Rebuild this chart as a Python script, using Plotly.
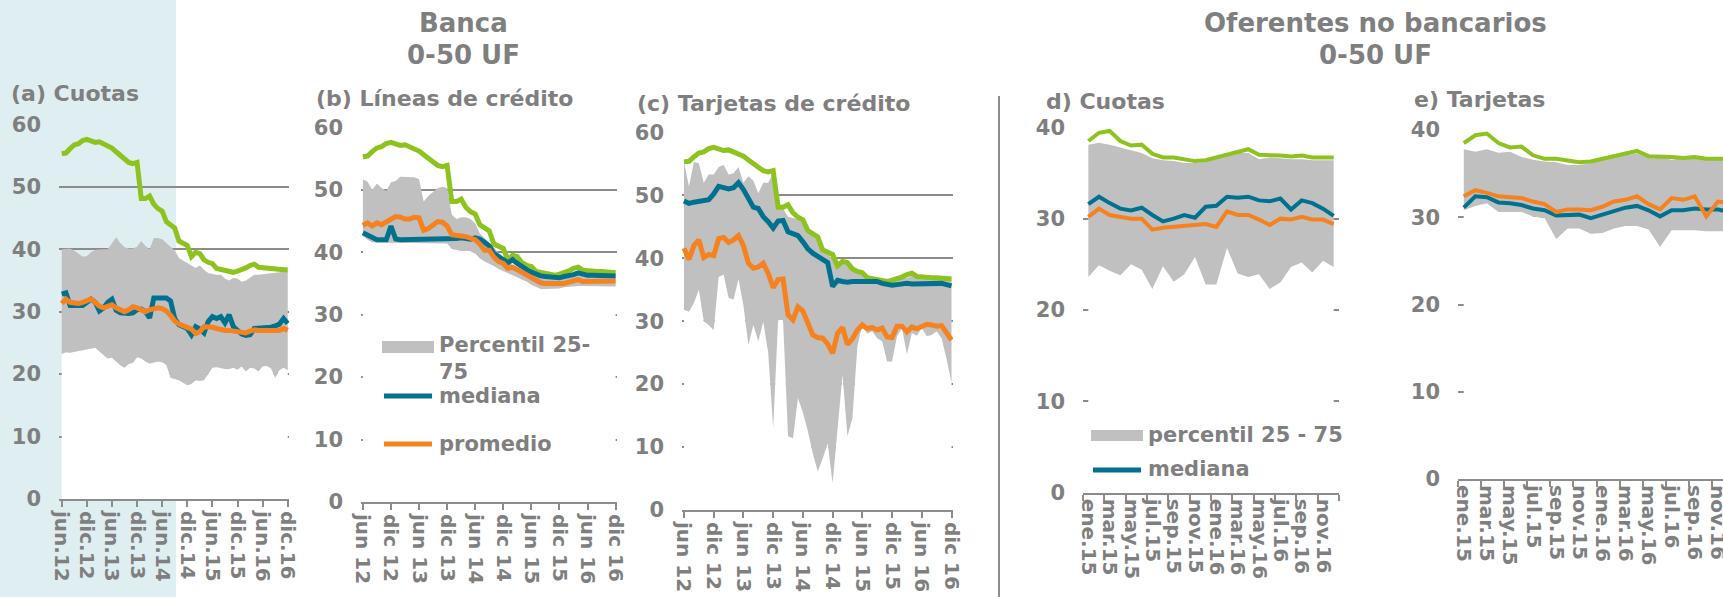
import plotly.graph_objects as go

W, H = 1723, 597
TXT = "#7f7f7f"
GRID = "#8c8c8c"
GREEN = "#8DC21F"
TEAL = "#00728F"
ORANGE = "#F5821F"
BAND = "#C0C0C0"
BG_A = "#DFEEF0"
FONT = "DejaVu Sans"

# ---------------- data: Banca (jun.12 - dic.16, monthly) ----------------
ticks_a = ["jun.12", "dic.12", "jun.13", "dic.13", "jun.14", "dic.14", "jun.15", "dic.15", "jun.16", "dic.16"]
ticks_bc = ["jun 12", "dic 12", "jun 13", "dic 13", "jun 14", "dic 14", "jun 15", "dic 15", "jun 16", "dic 16"]

tasa_max_banca = [55.3, 55.4, 56.1, 56.7, 56.9, 57.4, 57.6, 57.3, 57.1, 57.2, 56.9, 56.5, 56.2, 55.6, 55.0,
                  54.4, 53.9, 53.7, 53.9, 48.1, 48.1, 48.5, 47.2, 46.5, 46.1, 44.4, 43.8, 43.4, 41.3, 41.0,
                  40.6, 38.8, 39.5, 39.3, 38.3, 37.9, 37.7, 36.9, 36.7, 36.7, 36.5, 36.3, 36.5, 36.7, 37.0,
                  37.4, 37.6, 37.1, 37.0, 37.0, 36.9, 36.9, 36.8, 36.7, 36.7]

# (a) Cuotas
a_p25 = [23.2, 23.5, 23.4, 23.6, 23.7, 23.8, 23.9, 24.1, 24.2, 23.6, 23.0, 22.5, 22.6, 22.0, 21.4,
         21.0, 21.6, 21.8, 22.7, 22.5, 22.0, 21.7, 21.8, 22.0, 21.9, 21.5, 19.4, 19.2, 19.0, 18.6,
         18.2, 18.4, 19.0, 18.9, 19.0, 20.0, 21.0, 21.1, 20.9, 20.8, 20.8, 21.0, 20.7, 21.2, 20.4,
         21.0, 20.9, 20.4, 21.2, 21.3, 20.9, 19.4, 20.6, 21.0, 20.6]
a_p75 = [40.0, 40.0, 40.1, 39.8, 39.3, 38.8, 38.9, 39.5, 39.9, 40.0, 40.0, 40.0, 41.0, 41.9, 41.0,
         40.3, 40.1, 40.1, 40.4, 41.3, 40.5, 40.0, 41.8, 41.8, 41.6, 41.0, 40.4, 39.8, 38.6, 38.2,
         37.8, 37.5, 37.0, 37.4, 36.7, 36.2, 36.0, 35.9, 35.9, 35.3, 35.0, 35.4, 35.3, 34.8, 35.0,
         35.4, 35.9, 35.9, 36.0, 36.0, 36.1, 36.2, 36.3, 36.4, 36.4]
a_mediana = [32.8, 33.0, 31.0, 30.9, 31.0, 31.0, 31.6, 32.0, 31.5, 30.1, 30.6, 31.5, 32.0, 30.2, 29.8,
             29.7, 29.7, 29.8, 30.3, 30.4, 30.0, 29.0, 32.2, 32.2, 32.2, 32.2, 31.7, 28.9, 27.9, 27.5,
             27.3, 26.3, 27.6, 27.2, 26.6, 28.4, 29.2, 28.9, 29.2, 28.2, 29.5, 27.6, 26.9, 26.4, 26.2,
             26.3, 27.3, 27.3, 27.3, 27.4, 27.5, 27.7, 28.0, 28.9, 28.1]
a_promedio = [31.3, 32.0, 31.5, 31.3, 31.3, 31.5, 31.7, 32.0, 31.5, 30.9, 30.6, 30.9, 31.1, 30.6, 30.2,
              30.0, 30.3, 30.8, 30.6, 30.2, 30.0, 30.3, 30.5, 30.6, 30.5, 30.1, 29.4, 28.5, 28.0, 27.8,
              27.6, 27.2, 26.5, 26.8, 27.6, 27.6, 27.5, 27.3, 27.1, 27.0, 27.0, 26.9, 26.8, 26.8, 26.6,
              26.9, 27.1, 27.0, 27.0, 27.1, 27.2, 27.1, 27.0, 27.3, 27.0]

# (b) Lineas de credito
b_p25 = [42.6, 42.0, 41.6, 41.5, 41.5, 41.5, 41.5, 41.4, 41.5, 41.4, 41.4, 41.4, 41.4, 41.4, 41.4,
         41.5, 41.4, 41.4, 41.4, 40.5, 40.3, 40.2, 40.2, 40.2, 39.8, 39.0, 38.5, 38.2, 37.8, 37.3,
         37.0, 36.7, 36.4, 36.0, 35.6, 35.3, 34.8, 34.4, 34.1, 34.1, 34.1, 34.1, 34.2, 34.4, 34.5,
         34.6, 34.6, 34.6, 34.6, 34.5, 34.5, 34.5, 34.5, 34.5, 34.5]
b_p75 = [51.7, 51.3, 50.0, 51.0, 50.3, 49.8, 51.2, 51.4, 52.1, 52.1, 52.1, 52.0, 51.7, 48.1, 49.0,
         49.6, 50.3, 50.5, 50.3, 46.0, 45.3, 45.6, 45.6, 45.3, 44.6, 43.0, 42.2, 41.5, 40.8, 39.8,
         38.8, 38.5, 38.0, 37.4, 37.1, 36.8, 36.5, 36.3, 36.2, 36.2, 36.2, 36.2, 36.2, 36.3, 36.5,
         36.8, 37.0, 36.7, 36.6, 36.6, 36.5, 36.5, 36.5, 36.4, 36.4]
b_mediana = [43.1, 42.7, 42.2, 42.0, 42.0, 42.0, 44.2, 42.1, 42.0, 42.0, 42.0, 42.0, 42.0, 42.0, 42.0,
             42.0, 42.0, 42.0, 42.0, 42.0, 42.2, 42.3, 42.1, 42.1, 42.3, 42.1, 41.6, 41.0, 39.8, 39.4,
             38.8, 38.3, 38.8, 38.2, 37.6, 37.2, 36.8, 36.4, 36.2, 36.1, 36.0, 35.9, 35.9, 36.1, 36.2,
             36.4, 36.7, 36.4, 36.3, 36.3, 36.3, 36.3, 36.2, 36.2, 36.2]
b_promedio = [44.3, 44.7, 44.2, 44.7, 44.4, 44.8, 45.3, 45.7, 45.6, 45.3, 45.3, 45.6, 45.5, 43.5, 43.8,
              44.3, 44.9, 44.8, 44.2, 42.8, 42.6, 42.6, 42.5, 42.2, 42.0, 41.3, 40.3, 40.3, 39.2, 38.5,
              38.2, 37.4, 37.6, 37.2, 36.8, 36.4, 35.9, 35.4, 35.1, 35.0, 35.0, 34.8, 34.9, 35.0, 35.2,
              35.5, 35.6, 35.3, 35.3, 35.3, 35.3, 35.4, 35.4, 35.4, 35.4]

# (c) Tarjetas de credito
c_p25 = [31.8, 31.5, 32.9, 35.0, 30.0, 29.4, 28.6, 37.0, 37.4, 33.7, 33.4, 36.7, 32.5, 26.2, 29.4,
         26.8, 29.9, 25.0, 13.0, 30.2, 30.2, 11.7, 11.4, 17.8, 15.5, 12.5, 9.0, 6.1, 8.2, 10.6,
         4.3, 13.5, 21.5, 11.7, 14.6, 26.0, 29.5, 28.0, 28.4, 27.3, 26.8, 23.6, 23.6, 27.6, 28.9,
         24.7, 28.1, 27.7, 28.9, 27.6, 27.8, 28.4, 27.3, 24.0, 20.2]
c_p75 = [55.3, 51.4, 55.3, 55.1, 52.0, 53.3, 53.3, 54.5, 54.8, 53.3, 53.5, 54.5, 52.0, 53.0, 52.3,
         50.3, 52.0, 52.0, 53.5, 47.7, 47.9, 46.6, 46.4, 46.2, 45.8, 44.4, 43.8, 43.6, 41.4, 40.8,
         39.8, 38.9, 39.2, 39.0, 38.4, 37.8, 37.2, 36.7, 36.7, 36.6, 36.5, 36.4, 36.4, 36.5, 36.7,
         36.9, 37.1, 36.8, 36.7, 36.7, 36.7, 36.7, 36.7, 36.6, 36.6]
c_mediana = [49.1, 48.7, 48.9, 49.1, 49.2, 49.3, 50.2, 51.4, 51.2, 51.0, 51.2, 52.0, 50.9, 49.3, 48.1,
             47.9, 46.6, 45.8, 44.8, 45.9, 46.0, 44.2, 43.8, 43.6, 42.6, 41.5, 40.8, 40.3, 39.8, 39.3,
             35.5, 36.5, 36.3, 36.2, 36.3, 36.3, 36.4, 36.4, 36.4, 36.3, 36.0, 35.8, 35.7, 35.8, 36.0,
             36.0, 35.9, 35.9, 36.0, 36.0, 35.9, 35.9, 36.0, 35.8, 35.6]
c_promedio = [41.6, 39.8, 42.0, 42.9, 40.1, 40.6, 40.4, 43.1, 43.3, 42.5, 42.9, 43.6, 42.0, 39.2, 38.4,
              38.6, 39.2, 37.6, 35.3, 36.6, 36.7, 31.0, 30.2, 32.3, 31.6, 29.8, 27.8, 27.4, 27.3, 26.4,
              24.9, 28.1, 29.0, 26.3, 27.2, 28.6, 29.4, 28.8, 29.0, 28.6, 28.9, 27.5, 27.4, 29.2, 29.2,
              28.3, 29.1, 28.8, 29.2, 29.5, 29.4, 29.2, 29.3, 28.1, 27.0]

# ---------------- data: Oferentes no bancarios (ene.15 - dic.16) ----------------
meses = ["ene", "feb", "mar", "abr", "may", "jun", "jul", "ago", "sep", "oct", "nov", "dic"]
meses_nb = [f"{m}.{a}" for a in ("15", "16") for m in meses]

tasa_max_nb = [38.5, 39.4, 39.6, 38.5, 38.0, 38.1, 37.1, 36.7, 36.7, 36.5, 36.3, 36.4,
               36.7, 37.0, 37.4, 37.6, 37.0, 37.0, 36.9, 36.8, 36.9, 36.7, 36.7, 36.7]

d_p25 = [23.6, 24.9, 24.3, 23.8, 25.0, 24.4, 22.3, 24.8, 23.1, 23.9, 25.8, 22.8,
         22.8, 26.8, 24.0, 23.6, 23.9, 22.3, 23.0, 24.7, 25.2, 24.1, 25.4, 24.7]
d_p75 = [38.1, 38.3, 38.1, 37.8, 37.5, 37.2, 36.6, 36.4, 36.3, 36.1, 36.1, 36.2,
         36.5, 36.9, 37.2, 37.2, 36.5, 36.7, 36.6, 36.5, 36.5, 36.4, 36.4, 36.4]
d_mediana = [31.6, 32.4, 31.7, 31.1, 30.9, 31.2, 30.4, 29.7, 30.0, 30.4, 30.1, 31.3,
             31.4, 32.4, 32.3, 32.4, 32.0, 31.9, 32.2, 31.0, 32.0, 31.7, 31.1, 30.3]
d_promedio = [30.2, 31.1, 30.4, 30.2, 30.0, 30.0, 28.8, 29.0, 29.1, 29.2, 29.4, 29.4,
              29.1, 30.8, 30.4, 30.4, 29.9, 29.3, 30.0, 29.9, 30.2, 29.9, 29.9, 29.4]

e_p25 = [30.8, 31.3, 31.6, 30.6, 30.6, 30.6, 30.1, 29.9, 27.5, 28.7, 28.7, 28.1,
         28.2, 28.7, 29.0, 29.0, 28.6, 26.6, 28.5, 28.5, 28.5, 28.4, 28.4, 28.4]
e_p75 = [37.8, 37.5, 37.8, 37.4, 37.5, 36.9, 36.6, 36.4, 36.3, 36.0, 36.0, 36.2,
         36.6, 36.9, 37.1, 37.3, 36.9, 36.9, 36.6, 36.8, 36.8, 36.6, 36.6, 36.6]
e_mediana = [31.1, 32.4, 32.3, 31.7, 31.6, 31.4, 31.0, 30.8, 30.2, 30.3, 30.3, 29.9,
             30.3, 30.8, 31.1, 31.3, 30.8, 30.1, 30.8, 30.8, 31.0, 30.9, 30.9, 30.6]
e_promedio = [32.4, 33.1, 32.8, 32.4, 32.3, 32.2, 31.8, 31.5, 30.6, 30.9, 30.9, 30.8,
              31.2, 31.8, 32.0, 32.4, 31.5, 30.9, 32.2, 32.0, 32.4, 30.1, 31.8, 31.6]

# ---------------- helpers ----------------
def px(x):
    return x / W


def py(y):
    return 1 - y / H


x_banca = list(range(len(tasa_max_banca)))
tickpos_banca = x_banca[::6]

fig = go.Figure()

panels = [
    ("", x_banca, a_p25, a_p75, a_mediana, a_promedio, tasa_max_banca, 5),
    ("2", x_banca, b_p25, b_p75, b_mediana, b_promedio, tasa_max_banca, 5),
    ("3", x_banca, c_p25, c_p75, c_mediana, c_promedio, tasa_max_banca, 5),
    ("4", meses_nb, d_p25, d_p75, d_mediana, d_promedio, tasa_max_nb, 4),
    ("5", meses_nb, e_p25, e_p75, e_mediana, e_promedio, tasa_max_nb, 4),
]

for suf, xs, p25, p75, med, prom, mx, lw in panels:
    xa, ya = "x" + suf, "y" + suf
    fig.add_trace(go.Scatter(x=xs, y=p25, xaxis=xa, yaxis=ya, mode="lines", line=dict(width=0),
                             fill="tozeroy", fillcolor="white", showlegend=False, hoverinfo="skip"))
    fig.add_trace(go.Scatter(x=xs, y=p75, xaxis=xa, yaxis=ya, mode="lines", line=dict(width=0),
                             fill="tonexty", fillcolor=BAND, name="Percentil 25-75", showlegend=False))
    fig.add_trace(go.Scatter(x=xs, y=mx, xaxis=xa, yaxis=ya, mode="lines",
                             line=dict(color=GREEN, width=lw), name="Tasa máxima", showlegend=False))
    fig.add_trace(go.Scatter(x=xs, y=med, xaxis=xa, yaxis=ya, mode="lines",
                             line=dict(color=TEAL, width=lw), name="mediana", showlegend=False))
    fig.add_trace(go.Scatter(x=xs, y=prom, xaxis=xa, yaxis=ya, mode="lines",
                             line=dict(color=ORANGE, width=lw), name="promedio", showlegend=False))

tickfont = dict(family=FONT, size=20, color=TXT, weight="bold")
yfont = dict(family=FONT, size=21, color=TXT, weight="bold")

common_x = dict(showgrid=False, zeroline=False, showline=True, linecolor=GRID, linewidth=2,
                ticks="outside", ticklen=6, tickwidth=1.5, tickcolor=GRID, tickangle=90,
                tickfont=tickfont, fixedrange=True, automargin=False)
common_y = dict(showgrid=True, gridcolor=GRID, gridwidth=1.5, zeroline=False, showline=False,
                ticks="", tick0=0, dtick=10, tickfont=yfont, ticklabelstandoff=17, fixedrange=True,
                automargin=False)

fig.update_layout(
    xaxis=dict(common_x, domain=[px(59), px(289)], range=[-0.65, 54.3], tickmode="array",
               tickvals=tickpos_banca, ticktext=ticks_a, anchor="y"),
    yaxis=dict(common_y, domain=[py(499), py(124.3)], range=[0, 60], anchor="x"),
    xaxis2=dict(common_x, domain=[px(361), px(617)], range=[-0.4, 54.3], tickmode="array",
                tickvals=tickpos_banca, ticktext=ticks_bc, anchor="y2"),
    yaxis2=dict(common_y, domain=[py(502), py(127.3)], range=[0, 60], anchor="x2"),
    xaxis3=dict(common_x, domain=[px(682), px(953)], range=[-0.4, 54.3], tickmode="array",
                tickvals=tickpos_banca, ticktext=ticks_bc, anchor="y3"),
    yaxis3=dict(common_y, domain=[py(510), py(132.3)], range=[0, 60], anchor="x3"),
    xaxis4=dict(common_x, domain=[px(1083), px(1339)], type="category", range=[-0.5, 23.5],
                tickmode="linear", tick0=0, dtick=2, tickson="boundaries", anchor="y4"),
    yaxis4=dict(common_y, domain=[py(492.7), py(127.3)], range=[0, 40], anchor="x4"),
    xaxis5=dict(common_x, domain=[px(1458), 1.0], type="category", range=[-0.5, 22.45],
                tickmode="linear", tick0=0, dtick=2, tickson="boundaries", anchor="y5"),
    yaxis5=dict(common_y, domain=[py(479), py(130)], range=[0, 40], anchor="x5"),
)

ann = []
titlefont = dict(family=FONT, size=26, color=TXT, weight="bold")
subfont = dict(family=FONT, size=22, color=TXT, weight="bold")
legfont = dict(family=FONT, size=21, color=TXT, weight="bold")


def text(s, x, y, font, xanchor="left"):
    ann.append(dict(text=s, x=px(x), y=py(y), xref="paper", yref="paper", xanchor=xanchor,
                    yanchor="middle", showarrow=False, font=font, align="left"))


text("Banca", 463, 23, titlefont, "center")
text("0-50 UF", 463, 55, titlefont, "center")
text("Oferentes no bancarios", 1375, 23, titlefont, "center")
text("0-50 UF", 1375, 55, titlefont, "center")
text("(a) Cuotas", 9, 94, subfont)
text("(b) Líneas de crédito", 314, 98, subfont)
text("(c) Tarjetas de crédito", 635, 103, subfont)
text("d) Cuotas", 1044, 101, subfont)
text("e) Tarjetas", 1412, 100, subfont)

# legend (panel b)
text("Percentil 25-<br>75", 437, 358, legfont)
text("mediana", 437, 396, legfont)
text("promedio", 437, 444, legfont)
# legend (panel d)
text("percentil 25 - 75", 1146, 435, legfont)
text("mediana", 1146, 469, legfont)

shapes = [
    dict(type="rect", xref="paper", yref="paper", x0=0, x1=px(176), y0=0, y1=1,
         fillcolor=BG_A, line=dict(width=0), layer="below"),
    dict(type="line", xref="paper", yref="paper", x0=px(999), x1=px(999), y0=py(96), y1=0,
         line=dict(color=GRID, width=2)),
    dict(type="rect", xref="paper", yref="paper", x0=px(382), x1=px(434), y0=py(353), y1=py(341),
         fillcolor=BAND, line=dict(width=0)),
    dict(type="line", xref="paper", yref="paper", x0=px(384), x1=px(432), y0=py(396), y1=py(396),
         line=dict(color=TEAL, width=5)),
    dict(type="line", xref="paper", yref="paper", x0=px(384), x1=px(432), y0=py(444), y1=py(444),
         line=dict(color=ORANGE, width=5)),
    dict(type="rect", xref="paper", yref="paper", x0=px(1091), x1=px(1143), y0=py(441), y1=py(430),
         fillcolor=BAND, line=dict(width=0)),
    dict(type="line", xref="paper", yref="paper", x0=px(1093), x1=px(1141), y0=py(470), y1=py(470),
         line=dict(color=TEAL, width=5)),
]

fig.update_layout(
    width=W, height=H, margin=dict(l=0, r=0, t=0, b=0, pad=0, autoexpand=False),
    paper_bgcolor="white", plot_bgcolor="rgba(0,0,0,0)",
    showlegend=False, annotations=ann, shapes=shapes,
    font=dict(family=FONT, color=TXT),
)

fig.write_html("out.html", config={"displayModeBar": False},
               post_script="document.body.style.margin='0';document.body.style.overflow='hidden';")
